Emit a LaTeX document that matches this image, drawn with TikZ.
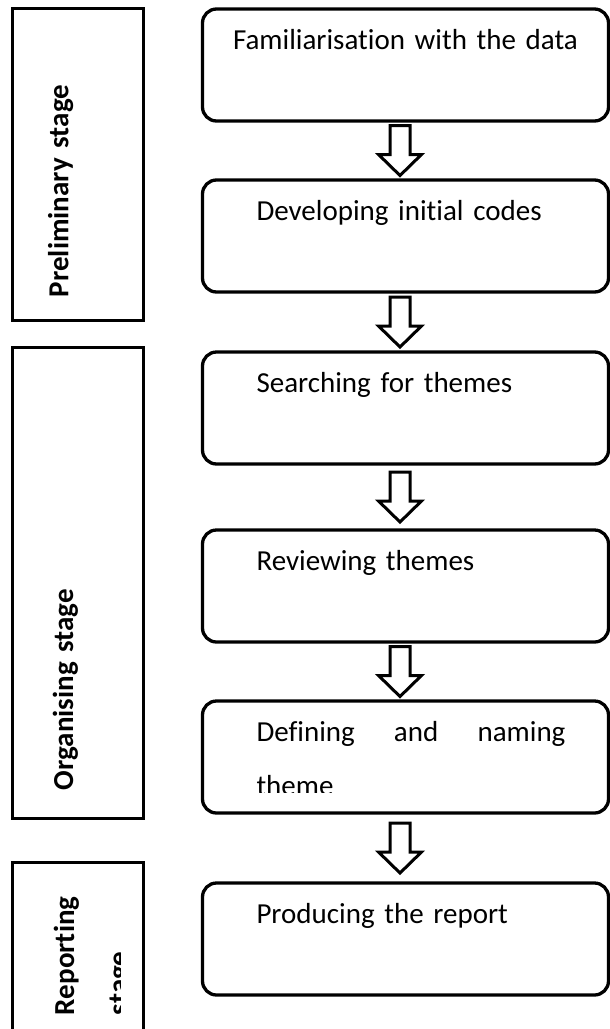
\documentclass[tikz,border=0pt]{standalone}
\usepackage{fontspec}
\setmainfont{Carlito}[Ligatures=NoCommon]
\usetikzlibrary{positioning,calc}

\begin{document}
\begin{tikzpicture}[
  x=0.5pt, y=-0.5pt,
  stepbox/.style={rectangle, draw, line width=1.65pt, rounded corners=7pt, outer sep=0pt,
    text width=160pt, inner xsep=21.5pt, inner ysep=0pt, text height=20pt, text depth=36pt,
    align=left, font=\fontsize{14.5pt}{27pt}\selectfont},
  indented/.style={execute at begin node={\leftskip=5.5pt\relax}},
  stagebox/.style={rectangle, draw, line width=1.5pt, rotate=90, outer sep=0pt, inner ysep=0pt,
    align=left, font=\fontsize{14.5pt}{27pt}\selectfont\bfseries},
  hollow/.style={draw, line width=1.5pt, fill=white, line join=miter}
]
\clip (0,0) rectangle (610,1029);

% stages on the left
\node[stagebox, text width=133pt, inner xsep=11.5pt, text height=28.25pt, text depth=37.25pt] (prelim) at (77.5,164) {Preliminary stage};
\node[stagebox, text width=207.5pt, inner xsep=14pt, text height=30.5pt, text depth=35pt] (organise) at (77.5,582.5) {Organising stage};
\begin{scope}
  % the frame cuts the second line
  \clip (0,0) rectangle (120,1029) (139,0) rectangle (610,1029) (0,0) rectangle (610,870);
  \node[stagebox, text width=63pt, inner xsep=13.5pt, text height=31pt, text depth=34.5pt] (reporting) at (77.5,952) {Reporting stage};
\end{scope}

% steps on the right
\node[stepbox, text width=180pt, inner xsep=11.5pt, align=center] (fam) at (405.5,65) {Familiarisation with the data};
\node[stepbox, indented, below=29.5pt of fam] (dev) {Developing initial codes};
\node[stepbox, indented, below=30pt of dev] (search) {Searching for themes};
\node[stepbox, indented, below=33pt of search] (review) {Reviewing themes};
\begin{scope}
  \clip (0,0) rectangle (610,792) (0,810) rectangle (610,1029) (0,0) rectangle (220,1029) (600,0) rectangle (610,1029);
  \node[stepbox, indented, align=justify, below=29.5pt of review] (define) {Defining and naming\linebreak theme};
\end{scope}
\node[stepbox, indented, below=35pt of define] (report) {Producing the report};

% hollow arrows
\foreach \a/\b in {fam/dev, dev/search, search/review, review/define, define/report}
  \draw[hollow] ($(\a.south)!0.5!(\b.north)+(-15.5,-25)$) -- ++(20,0) -- ++(0,29) -- ++(11.5,0)
    -- ++(-21.5,21) -- ++(-21.5,-21) -- ++(11.5,0) -- cycle;

\end{tikzpicture}
\end{document}
